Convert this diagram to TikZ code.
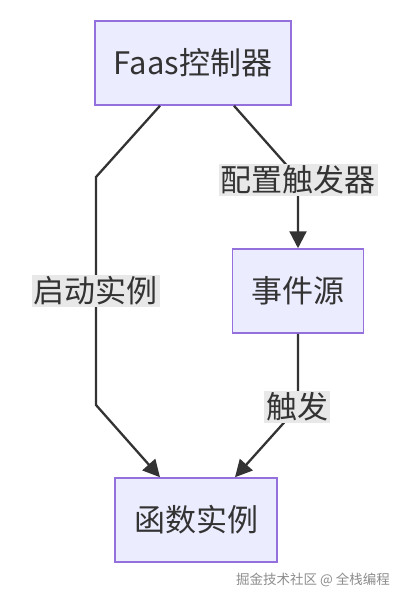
\documentclass[tikz,border=0pt]{standalone}
\usepackage{fontspec}
\newfontfamily\cjk{Noto Sans CJK SC}
\usetikzlibrary{arrows.meta}
\definecolor{boxfill}{HTML}{ECECFF}
\definecolor{boxline}{HTML}{9370DB}
\definecolor{ink}{HTML}{333333}
\definecolor{labelbg}{HTML}{E8E8E8}
\tikzset{
  procbox/.style={draw=boxline, fill=boxfill, line width=1.5pt, text=ink,
    minimum height=84pt, inner xsep=19pt, font=\cjk\fontsize{31}{36}\selectfont},
  edgelabel/.style={fill=labelbg, text=ink, inner xsep=2pt, inner ysep=2pt,
    font=\cjk\fontsize{31}{36}\selectfont},
  flow/.style={draw=ink, line width=2.3pt, -{Triangle[length=17pt, width=17pt]}}
}
\begin{document}
\begin{tikzpicture}[x=1pt, y=-1pt]
    \useasboundingbox (0,0) rectangle (404,600);

    % Define the boxes
    \node[procbox] (ctrl) at (193,63) {Faas控制器};
    \node[procbox] (src) at (298,291) {事件源};
    \node[procbox] (inst) at (196,520) {函数实例};

    % Bend points of the connectors
    \coordinate (L1) at (96,177);
    \coordinate (L2) at (96,405);
    \coordinate (R1) at (298,178);
    \coordinate (R2) at (298,407);

    % Draw the connectors
    \draw[flow] ([xshift=-33pt]ctrl.south) -- (L1) -- (L2) -- ([xshift=-36pt]inst.north);
    \draw[flow] ([xshift=41pt]ctrl.south) -- (R1) -- (src.north);
    \draw[flow] (src.south) -- (R2) -- ([xshift=39pt]inst.north);

    % Labels on the connectors
    \node[edgelabel] (start) at (96,291) {启动实例};
    \node[edgelabel] (config) at (298,180) {配置触发器};
    \node[edgelabel] (fire) at (297,407) {触发};

    % Watermark
    \node[text=black!45, font=\cjk\fontsize{13.5}{16}\selectfont] (mark) at (313,580) {掘金技术社区 @ 全栈编程};
\end{tikzpicture}
\end{document}
